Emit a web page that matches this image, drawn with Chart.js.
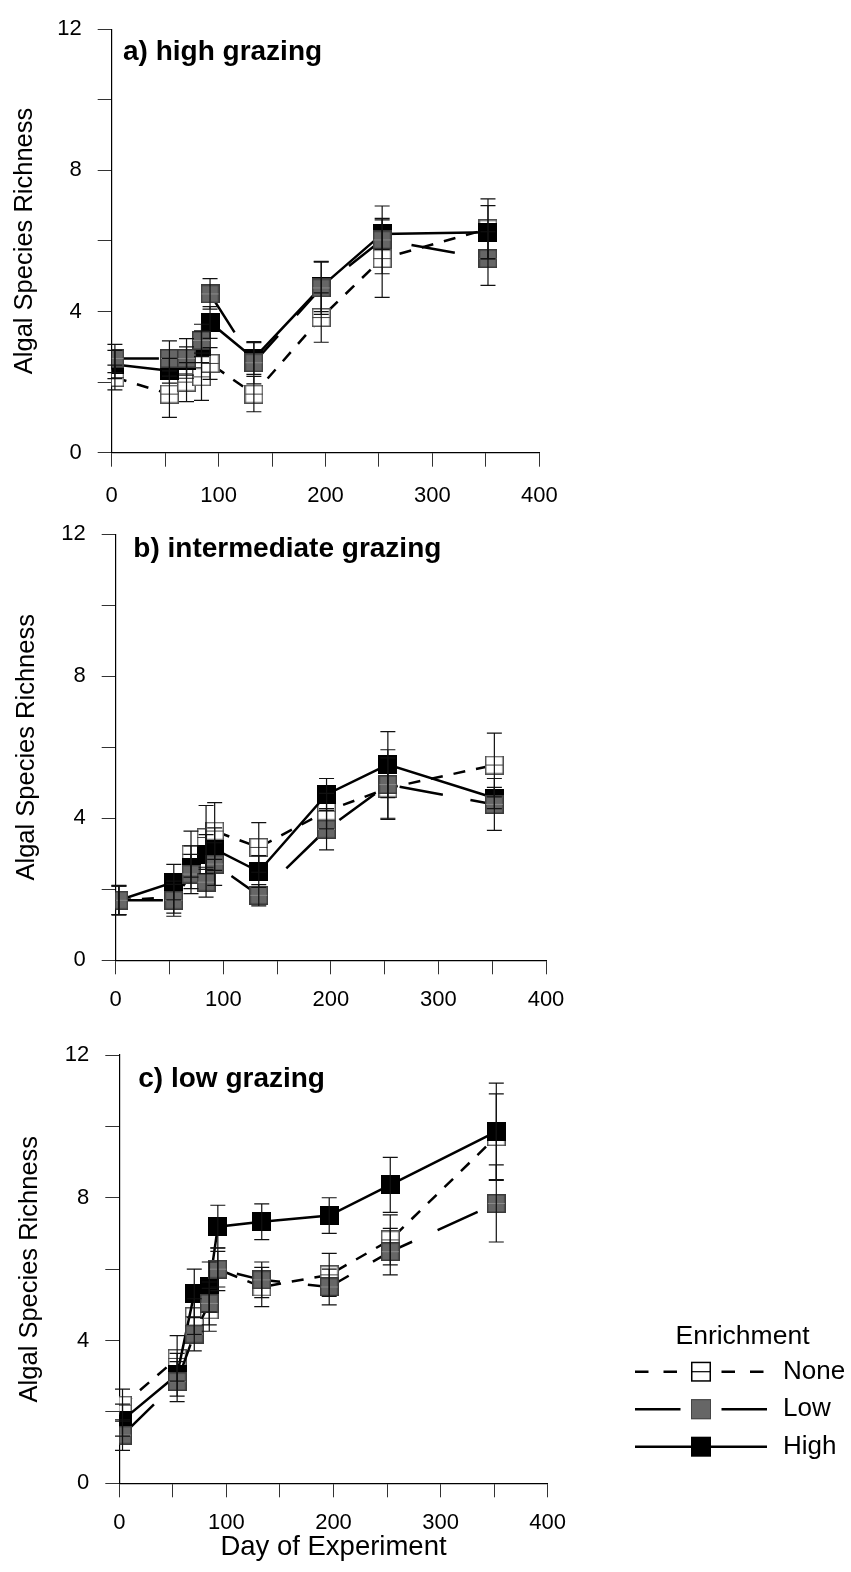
<!DOCTYPE html>
<html>
<head>
<meta charset="utf-8">
<script src="https://cdn.jsdelivr.net/npm/chart.js@4.4.1/dist/chart.umd.min.js"></script>
<style>
  body { margin: 0; background: #fff; overflow: hidden; }
  #wrap { position: relative; width: 851px; height: 1572px; }
  canvas { position: absolute; left: 0; }
</style>
</head>
<body>
<div id="wrap">
  <canvas id="chartA" width="851" height="505" style="top:0px"></canvas>
  <canvas id="chartB" width="851" height="510" style="top:505px"></canvas>
  <canvas id="chartC" width="851" height="557" style="top:1015px"></canvas>
</div>
<script>
// sampling days
const days = [3, 54, 70, 84, 92, 133, 196, 253, 352];
const seriesNames = ['None', 'Low', 'High'];
const legendTitle = 'Enrichment';
const xTickLabels = [0, 100, 200, 300, 400];
const yTickLabels = [0, 4, 8, 12];

// a) high grazing
const aNone = [2.13, 1.66, 2.0, 2.15, 2.53, 1.66, 3.83, 5.5, 6.34];
const aNoneErr = [0.35, 0.66, 0.55, 0.67, 0.45, 0.5, 0.7, 1.1, 0.85];
const aLow = [2.67, 2.67, 2.67, 3.18, 4.5, 2.55, 4.67, 6.03, 5.5];
const aLowErr = [0.4, 0.5, 0.56, 0.46, 0.43, 0.6, 0.75, 0.96, 0.76];
const aHigh = [2.5, 2.32, 2.6, 3.0, 3.69, 2.67, 4.7, 6.2, 6.25];
const aHighErr = [0.4, 0.35, 0.4, 0.45, 0.45, 0.45, 0.7, 0.44, 0.75];

// b) intermediate grazing
const bNone = [1.69, 1.78, 2.99, 3.46, 3.64, 3.18, 4.2, 4.85, 5.5];
const bNoneErr = [0.4, 0.45, 0.65, 0.9, 0.8, 0.7, 0.5, 0.85, 0.9];
const bLow = [1.69, 1.69, 2.43, 2.2, 2.71, 1.83, 3.69, 4.95, 4.39];
const bLowErr = [0.42, 0.45, 0.55, 0.42, 0.6, 0.3, 0.58, 0.98, 0.73];
const bHigh = [1.69, 2.2, 2.62, 2.99, 3.13, 2.5, 4.67, 5.51, 4.57];
const bHighErr = [0.4, 0.5, 0.6, 0.55, 0.6, 0.45, 0.45, 0.93, 0.3];

// c) low grazing
const cNone = [2.19, 3.5, 4.67, 4.86, 6.0, 5.5, 5.84, 6.82, 9.71];
const cNoneErr = [0.45, 0.64, 0.5, 0.6, 0.6, 0.55, 0.6, 0.7, 1.2];
const cLow = [1.35, 2.85, 4.18, 5.04, 6.0, 5.7, 5.5, 6.49, 7.84];
const cLowErr = [0.43, 0.56, 0.47, 0.6, 0.5, 0.5, 0.5, 0.65, 1.08];
const cHigh = [1.77, 3.04, 5.32, 5.5, 7.19, 7.33, 7.5, 8.36, 9.85];
const cHighErr = [0.45, 0.6, 0.68, 0.7, 0.6, 0.5, 0.5, 0.77, 1.36];

const FONT = "'Liberation Sans', Arial, sans-serif";

// square markers drawn once on small canvases
function marker(size, fill, border, midLine) {
    const c = document.createElement('canvas');
    c.width = size; c.height = size;
    const g = c.getContext('2d');
    g.fillStyle = fill;
    g.fillRect(0, 0, size, size);
    g.strokeStyle = border;
    g.lineWidth = 1.5;
    g.strokeRect(0.75, 0.75, size - 1.5, size - 1.5);
    if (midLine) {
        g.strokeStyle = midLine;
        g.lineWidth = 1;
        g.beginPath();
        g.moveTo(1, size / 2); g.lineTo(size - 1, size / 2);
        g.stroke();
    }
    return c;
}
const markNone = marker(19, '#ffffff', '#505050', '#404040');
const markLow = marker(19, '#666666', '#3a3a3a', '#8a8a8a');
const markHigh = marker(19, '#000000', '#000000', null);

const errorBars = {
    id: 'errorBars',
    afterDatasetsDraw(chart) {
        const {ctx, scales: {x, y}} = chart;
        ctx.save();
        ctx.strokeStyle = '#111';
        ctx.lineWidth = 1.2;
        chart.data.datasets.forEach(ds => {
            ds.data.forEach((p, i) => {
                const e = ds.errs[i];
                const px = x.getPixelForValue(p.x);
                const top = y.getPixelForValue(p.y + e);
                const bot = y.getPixelForValue(p.y - e);
                ctx.beginPath();
                ctx.moveTo(px, top); ctx.lineTo(px, bot);
                ctx.moveTo(px - 7.5, top); ctx.lineTo(px + 7.5, top);
                ctx.moveTo(px - 7.5, bot); ctx.lineTo(px + 7.5, bot);
                ctx.stroke();
            });
        });
        ctx.restore();
    }
};

const panelLabel = {
    id: 'panelLabel',
    afterDraw(chart, args, opts) {
        const {ctx, chartArea} = chart;
        ctx.save();
        ctx.font = 'bold 28px ' + FONT;
        ctx.fillStyle = '#000';
        ctx.textBaseline = 'alphabetic';
        ctx.fillText(opts.text, chartArea.left + opts.dx, chartArea.top + opts.dy);
        ctx.restore();
    }
};

// legend to the right of panel c: line sample, marker, name
const enrichmentLegend = {
    id: 'enrichmentLegend',
    afterDraw(chart, args, opts) {
        if (!opts.show) return;
        const ctx = chart.ctx;
        ctx.save();
        ctx.fillStyle = '#000';
        ctx.textBaseline = 'middle';
        ctx.textAlign = 'center';
        ctx.font = '26.5px ' + FONT;
        ctx.fillText(legendTitle, opts.titleX, opts.titleY);
        ctx.font = '26px ' + FONT;
        ctx.textAlign = 'left';
        seriesNames.forEach((name, i) => {
            const y = opts.rowY + i * opts.rowStep;
            const x0 = opts.lineX0, x1 = opts.lineX1, mx = (x0 + x1) / 2, m = 20;
            let segs;
            if (name === 'None') segs = [[0, 13.5], [28.5, 42], [86.5, 100], [115, 128.5]];
            else if (name === 'Low') segs = [[0, 45.5], [86.5, 132]];
            else segs = [[0, 132]];
            ctx.strokeStyle = '#000';
            ctx.lineWidth = 2.5;
            ctx.beginPath();
            segs.forEach(s => { ctx.moveTo(x0 + s[0], y); ctx.lineTo(x0 + s[1], y); });
            ctx.stroke();
            if (name === 'None') {
                ctx.fillStyle = '#fff';
                ctx.fillRect(mx - m / 2, y - m / 2, m, m);
                ctx.strokeStyle = '#000';
                ctx.lineWidth = 1.5;
                ctx.strokeRect(mx - m / 2 + 0.75, y - m / 2 + 0.75, m - 1.5, m - 1.5);
                ctx.lineWidth = 1.2;
                ctx.beginPath(); ctx.moveTo(mx - m / 2, y); ctx.lineTo(mx + m / 2, y); ctx.stroke();
            } else if (name === 'Low') {
                ctx.fillStyle = '#666';
                ctx.fillRect(mx - m / 2, y - m / 2, m, m);
                ctx.strokeStyle = '#444';
                ctx.lineWidth = 1;
                ctx.strokeRect(mx - m / 2 + 0.5, y - m / 2 + 0.5, m - 1, m - 1);
            } else {
                ctx.fillStyle = '#000';
                ctx.fillRect(mx - m / 2, y - m / 2, m, m);
            }
            ctx.fillStyle = '#000';
            ctx.fillText(name, opts.textX, y);
        });
        ctx.restore();
    }
};

function points(vals) {
    return days.map((d, i) => ({x: d, y: vals[i]}));
}

// Low first so it ends up on top
function makeDatasets(none, noneErr, low, lowErr, high, highErr) {
    const base = {showLine: true, borderColor: '#000', borderWidth: 2.5, pointRadius: 9, pointHoverRadius: 9};
    return [
        Object.assign({}, base, {label: 'Low', data: points(low), errs: lowErr, borderDash: [44, 28], pointStyle: markLow}),
        Object.assign({}, base, {label: 'High', data: points(high), errs: highErr, borderDash: [], pointStyle: markHigh}),
        Object.assign({}, base, {label: 'None', data: points(none), errs: noneErr, borderDash: [12, 11], pointStyle: markNone})
    ];
}

function makeChart(id, label, datasets, opt) {
    const tickGrid = {drawOnChartArea: false, tickLength: 14, color: '#333', lineWidth: 1};
    const axisBorder = {display: true, color: '#000', width: 1.2};
    const config = {
        type: 'scatter',
        data: {datasets: datasets},
        options: {
            responsive: false,
            animation: false,
            devicePixelRatio: 1,
            layout: {padding: {top: opt.padTop, right: opt.padRight, left: 0, bottom: 0}},
            scales: {
                x: {
                    type: 'linear', min: 0, max: 400,
                    afterFit: s => { s.height = opt.xHeight; },
                    ticks: {
                        stepSize: 50, autoSkip: false, maxRotation: 0, padding: opt.xTickPad, color: '#000',
                        font: {size: 22, family: FONT},
                        callback: v => xTickLabels.includes(v) ? String(v) : ''
                    },
                    grid: tickGrid,
                    border: axisBorder,
                    title: opt.xTitle ? {
                        display: true, text: 'Day of Experiment', color: '#000',
                        font: {size: 27.5, family: FONT}, padding: {top: 0, bottom: 8}
                    } : {display: false}
                },
                y: {
                    type: 'linear', min: 0, max: 12,
                    afterFit: s => { s.width = opt.yWidth; },
                    ticks: {
                        stepSize: 2, padding: 16, color: '#000',
                        font: {size: 22, family: FONT},
                        callback: v => yTickLabels.includes(v) ? String(v) : ''
                    },
                    grid: tickGrid,
                    border: axisBorder,
                    title: {
                        display: true, text: 'Algal Species Richness', color: '#000',
                        font: {size: 25.5, family: FONT}, padding: {top: opt.yTitlePad, bottom: 0}
                    }
                }
            },
            plugins: {
                tooltip: {enabled: false},
                legend: {display: false},
                panelLabel: {text: label, dx: opt.labelDx, dy: opt.labelDy},
                enrichmentLegend: opt.legend || {show: false}
            }
        },
        plugins: [errorBars, panelLabel, enrichmentLegend]
    };
    return new Chart(document.getElementById(id).getContext('2d'), config);
}

makeChart('chartA', 'a) high grazing',
    makeDatasets(aNone, aNoneErr, aLow, aLowErr, aHigh, aHighErr),
    {padTop: 24.7, padRight: 311.7, yWidth: 111.7, xHeight: 52.3, xTickPad: 16, yTitlePad: 9.5, labelDx: 11.3, labelDy: 30.3});

makeChart('chartB', 'b) intermediate grazing',
    makeDatasets(bNone, bNoneErr, bLow, bLowErr, bHigh, bHighErr),
    {padTop: 26, padRight: 305, yWidth: 115.7, xHeight: 54.7, xTickPad: 12, yTitlePad: 11.7, labelDx: 17.6, labelDy: 22.3});

makeChart('chartC', 'c) low grazing',
    makeDatasets(cNone, cNoneErr, cLow, cLowErr, cHigh, cHighErr),
    {padTop: 40, padRight: 303.3, yWidth: 119.3, xHeight: 88.7, xTickPad: 12, yTitlePad: 14.7, labelDx: 19, labelDy: 31.7,
     xTitle: true,
     legend: {show: true, titleX: 742.5, titleY: 321.7, rowY: 356.7, rowStep: 37.5, lineX0: 635, lineX1: 767, textX: 783}});
</script>
</body>
</html>
